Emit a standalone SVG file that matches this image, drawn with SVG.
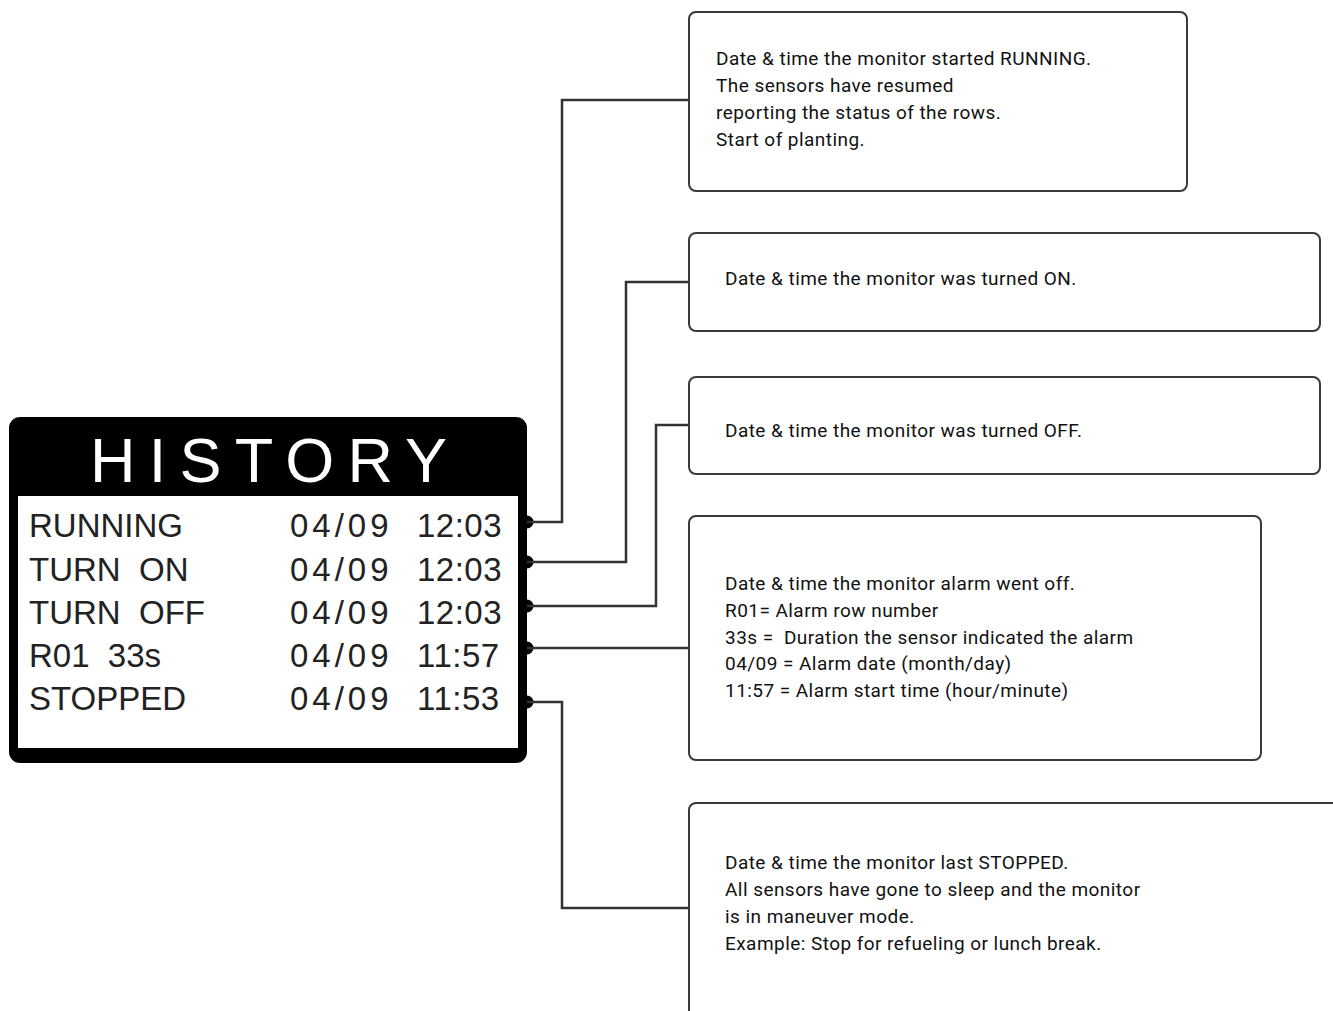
<svg xmlns="http://www.w3.org/2000/svg" width="1333" height="1011" viewBox="0 0 1333 1011">
<style>
.box{fill:#fff;stroke:#3a3a3a;stroke-width:2}
.desc{font-family:Roboto,"Noto Sans",sans-serif;font-size:19px;letter-spacing:0.45px;fill:#111}
.row{font-family:"Liberation Sans",Arial,sans-serif;font-size:33px;fill:#222}
.conn{fill:none;stroke:#333;stroke-width:2.5}
.dot{fill:#000}
</style>
<rect width="1333" height="1011" fill="#fff"/>
<g id="history">
<rect x="9" y="417" width="518" height="346" rx="11" fill="#000"/>
<rect x="18" y="496" width="500" height="252" fill="#fff"/>
<text x="90" y="482" font-family="'Liberation Sans',Arial,sans-serif" font-size="63" fill="#fff" textLength="357" lengthAdjust="spacing">HISTORY</text>
<text class="row" x="29" y="537">RUNNING</text>
<text class="row" x="29" y="581" xml:space="preserve">TURN  ON</text>
<text class="row" x="29" y="624" xml:space="preserve">TURN  OFF</text>
<text class="row" x="29" y="667" xml:space="preserve">R01  33s</text>
<text class="row" x="29" y="710">STOPPED</text>
<g class="row" letter-spacing="4">
<text x="290" y="537">04/09</text>
<text x="290" y="581">04/09</text>
<text x="290" y="624">04/09</text>
<text x="290" y="667">04/09</text>
<text x="290" y="710">04/09</text>
</g>
<g class="row" letter-spacing="0.5">
<text x="417" y="537">12:03</text>
<text x="417" y="581">12:03</text>
<text x="417" y="624">12:03</text>
<text x="417" y="667">11:57</text>
<text x="417" y="710">11:53</text>
</g>
<circle class="dot" cx="527" cy="522" r="6.5"/>
<circle class="dot" cx="527" cy="562" r="6.5"/>
<circle class="dot" cx="527" cy="606" r="6.5"/>
<circle class="dot" cx="527" cy="648" r="6.5"/>
<circle class="dot" cx="527" cy="702" r="6.5"/>
</g>
<g id="connectors">
<path class="conn" d="M527 522 H562 V100 H689"/>
<path class="conn" d="M527 562 H626 V282 H689"/>
<path class="conn" d="M527 606 H656 V425 H689"/>
<path class="conn" d="M527 648 H689"/>
<path class="conn" d="M527 702 H562 V908 H689"/>
</g>
<g id="box-running">
<rect class="box" x="689" y="12" width="498" height="179" rx="7"/>
<text class="desc" x="716" y="65">Date &amp; time the monitor started RUNNING.</text>
<text class="desc" x="716" y="92">The sensors have resumed</text>
<text class="desc" x="716" y="119">reporting the status of the rows.</text>
<text class="desc" x="716" y="146">Start of planting.</text>
</g>
<g id="box-turn-on">
<rect class="box" x="689" y="233" width="631" height="98" rx="7"/>
<text class="desc" x="725" y="285">Date &amp; time the monitor was turned ON.</text>
</g>
<g id="box-turn-off">
<rect class="box" x="689" y="377" width="631" height="97" rx="7"/>
<text class="desc" x="725" y="437">Date &amp; time the monitor was turned OFF.</text>
</g>
<g id="box-alarm">
<rect class="box" x="689" y="516" width="572" height="244" rx="7"/>
<text class="desc" x="725" y="590">Date &amp; time the monitor alarm went off.</text>
<text class="desc" x="725" y="617">R01= Alarm row number</text>
<text class="desc" x="725" y="644" xml:space="preserve">33s =  Duration the sensor indicated the alarm</text>
<text class="desc" x="725" y="670">04/09 = Alarm date (month/day)</text>
<text class="desc" x="725" y="697">11:57 = Alarm start time (hour/minute)</text>
</g>
<g id="box-stopped">
<rect class="box" x="689" y="803" width="700" height="260" rx="7"/>
<text class="desc" x="725" y="869">Date &amp; time the monitor last STOPPED.</text>
<text class="desc" x="725" y="896">All sensors have gone to sleep and the monitor</text>
<text class="desc" x="725" y="923">is in maneuver mode.</text>
<text class="desc" x="725" y="950">Example: Stop for refueling or lunch break.</text>
</g>
</svg>
